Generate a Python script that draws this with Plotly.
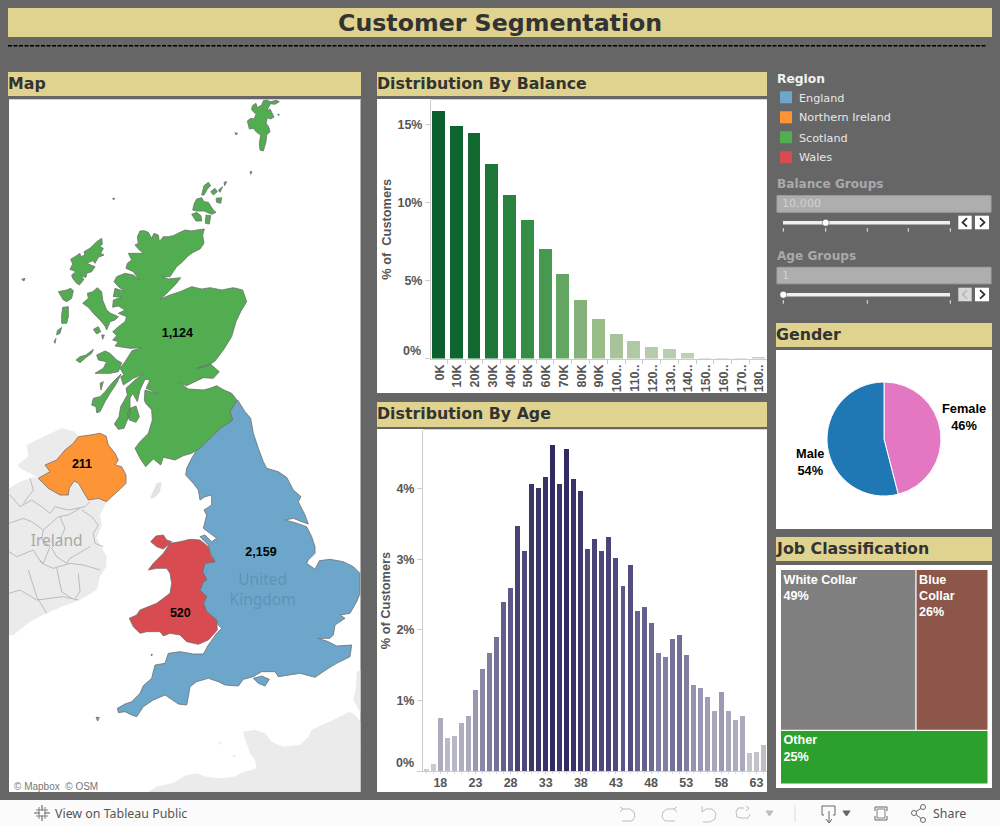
import plotly.graph_objects as go

W, H = 1000, 827

# ---------- data ----------
balance_labels = ["0K","10K","20K","30K","40K","50K","60K","70K","80K","90K","100..","110..","120..","130..","140..","150..","160..","170..","180.."]
balance_pct = [15.85,14.89,14.44,12.46,10.47,8.87,7.0,5.4,3.74,2.52,1.56,1.11,0.73,0.6,0.34,0.02,0.01,0.01,0.08]
age_values = list(range(16, 65))
age_pct = [0.03,0.10,0.75,0.47,0.50,0.68,0.78,1.15,1.45,1.67,1.90,2.39,2.59,3.47,3.12,4.07,4.01,4.17,4.62,4.07,4.56,4.14,3.97,
           3.15,3.29,3.12,3.32,3.02,2.62,2.92,2.27,2.32,2.10,1.67,1.62,1.87,1.93,1.64,1.22,1.18,1.05,0.85,1.12,0.85,0.72,0.78,0.26,0.27,0.37]
age_ticks = [18,23,28,33,38,43,48,53,58,63]
gender_labels = ["Female","Male"]
gender_pct = [46,54]
job_labels = ["White Collar","Blue<br>Collar","Other"]
job_pct = [49,26,25]
region_names = ["England","Northern Ireland","Scotland","Wales"]
region_customers = [2159,211,1124,520]
region_colors = ["#6da6cb","#fd9536","#52ad51","#d84b50"]

# Map outlines in map-grid units, read on three sheets:
# south sheet (used as is), north sheet and west sheet (shifted into place in code).
NORTH_SHIFT = (0, -915)
WEST_SHIFT = (150, -540)
england = [(713,0),(735,35),(752,55),(760,100),(775,145),(790,185),(800,205),(835,215),(860,232),(880,270),(903,290),(895,305),(915,345),(925,372),(905,365),(880,355),(855,360),(885,368),(920,380),(935,410),(945,440),(945,460),(925,480),(920,490),(945,508),(958,482),(990,478),(1030,485),(1060,500),(1080,520),(1080,580),(1070,605),(1050,640),(1020,645),(1035,655),(1005,675),(1000,705),(990,715),(955,715),(985,725),(1010,738),(1055,735),(1050,770),(1010,790),(985,805),(945,832),(900,820),(835,830),(825,815),(785,815),(760,830),(730,838),(715,858),(675,855),(655,845),(625,835),(590,845),(570,860),(565,890),(560,915),(535,912),(510,895),(495,885),(460,900),(430,920),(410,950),(395,945),(375,935),(355,938),(352,925),(375,912),(395,905),(420,880),(430,857),(455,835),(465,795),(495,790),(505,760),(540,755),(580,762),(610,762),(625,735),(650,700),(665,685),(650,670),(650,660),(620,635),(610,610),(620,590),(600,570),(610,545),(620,540),(608,515),(615,490),(645,485),(632,460),(625,435),(600,410),(615,405),(635,425),(650,415),(610,385),(620,345),(612,330),(635,315),(635,285),(615,290),(600,300),(595,270),(580,250),(557,225),(560,205),(575,175),(590,150),(630,115),(660,85),(698,60),(690,35)]
wight = [(760,835),(785,828),(808,838),(795,858),(775,850)]
scilly = [(288,952),(298,952),(293,963)]
lundy = [(453,763),(457,763),(455,768)]
wales = [(510,430),(540,425),(570,418),(600,420),(625,440),(632,465),(645,485),(615,490),(608,515),(620,540),(610,545),(600,570),(620,590),(610,610),(620,635),(650,660),(652,690),(625,720),(595,733),(560,725),(540,705),(510,700),(490,708),(480,695),(440,695),(420,700),(400,680),(388,655),(410,645),(420,630),(470,610),(510,580),(515,550),(510,520),(500,505),(470,505),(445,510),(460,490),(490,460)]
anglesey = [(452,425),(468,408),(490,405),(500,420),(515,425),(490,447),(470,440)]
n_ireland = [(300,100),(318,108),(325,135),(345,160),(355,180),(345,195),(365,200),(378,225),(378,250),(360,268),(335,290),(320,305),(295,295),(265,300),(250,275),(235,250),(222,243),(208,265),(205,285),(180,285),(145,265),(115,235),(150,215),(135,195),(170,180),(195,150),(220,130),(235,110),(270,105)]
# north sheet: Cape Wrath, north and east coasts, the border, Solway and Ayrshire
scot_east = [(420,408),(432,407),(445,412),(455,430),(462,415),(475,420),(478,440),(490,425),(505,425),(520,422),(540,412),(555,405),(575,408),(590,405),(613,402),(608,420),(612,445),(600,462),(580,472),(565,482),(548,500),(530,515),(520,530),(510,545),(488,546),(505,552),(542,548),(530,565),(510,585),(495,600),(480,612),(510,600),(540,590),(575,575),(605,582),(630,578),(665,585),(700,578),(728,585),(740,620),(722,650),(708,680),(695,725),(670,765),(645,798),(625,812),(590,820),(630,806),(658,830),(640,850),(610,848),(585,860),(560,872),(540,865),(565,882),(610,885),(630,880),(650,872),(672,885),(695,895),(711,915),(690,950),(698,975),(660,1000),(630,1030),(600,1060),(575,1075),(550,1082),(525,1095),(490,1087),(482,1110),(460,1092),(437,1115),(420,1090),(405,1060),(420,1040),(445,1015),(457,975),(455,945),(437,925)]
# west sheet: the sea lochs from the Clyde back up to Cape Wrath
scot_west = [(283,540),(285,510),(325,522),(300,510),(288,505),(300,480),(285,478),(270,510),(262,545),(248,520),(240,535),(240,580),(222,625),(205,628),(193,612),(207,590),(212,560),(232,525),(228,505),(255,480),(280,462),(250,475),(220,495),(212,470),(222,465),(210,445),(225,425),(246,392),(275,383),(240,385),(195,378),(205,365),(188,360),(200,347),(188,335),(205,320),(225,305),(230,290),(205,280),(225,270),(205,258),(188,262),(190,240),(215,232),(190,230),(195,205),(225,215),(205,200),(192,185),(200,170),(225,160),(250,165),(268,180),(250,155),(228,145),(232,130),(245,120),(235,100),(265,100),(280,100),(268,90),(255,75),(265,70),(262,50)]
hebrides_west = [
    [(155,55),(157,72),(150,80),(160,85),(152,100),(162,105),(145,112),(135,130),(128,122),(110,130),(135,140),(125,155),(110,160),(108,172),(92,168),(102,178),(88,195),(78,188),(68,175),(65,165),(78,155),(60,148),(68,132),(62,118),(75,110),(90,100),(92,110),(105,105),(102,95),(120,85),(140,65)],
    [(25,215),(50,210),(62,205),(70,212),(65,235),(50,245),(40,240)],
    [(38,262),(55,260),(55,290),(50,310),(35,310),(35,285)],
    [(35,322),(30,340),(20,345),(22,332)],
    [(12,365),(18,355),(15,370)],
    [(98,250),(115,235),(112,220),(128,215),(142,203),(155,215),(158,240),(170,270),(182,280),(205,290),(195,300),(180,305),(170,330),(165,318),(150,300),(130,280),(115,262)],
    [(130,328),(145,320),(152,335),(140,342)],
    [(155,345),(163,345),(158,358)],
    [(78,420),(90,410),(108,405),(130,388),(125,400),(105,415),(90,428)],
    [(140,405),(165,393),(180,400),(200,420),(215,428),(205,455),(180,460),(135,460),(160,445),(170,425),(145,420)],
    [(150,490),(160,485),(153,510)],
    [(213,462),(200,490),(180,520),(165,545),(150,575),(140,578),(138,560),(125,555),(130,535),(150,530),(165,515),(185,490)],
    [(240,565),(258,558),(268,590),(258,607),(238,600),(232,580)],
]
isles_north = [
    [(583,325),(590,312),(605,308),(612,320),(625,322),(640,345),(648,352),(635,358),(612,348),(590,348),(578,345)],
    [(575,358),(590,352),(603,362),(605,378),(588,378)],
    [(618,360),(632,362),(628,387),(616,385)],
    [(612,272),(625,262),(632,272),(622,282),(612,300),(605,300)],
    [(632,290),(645,280),(652,290),(640,300)],
    [(648,310),(665,308),(662,325),(650,322)],
    [(672,262),(680,260),(674,272)],
    [(655,285),(668,275),(660,292)],
    [(757,32),(768,25),(772,38),(785,30),(790,17),(800,15),(812,20),(828,16),(838,20),(825,28),(812,26),(806,36),(800,48),(810,42),(822,66),(812,72),(802,68),(798,85),(806,95),(810,110),(800,120),(798,140),(790,168),(780,165),(778,145),(782,120),(770,112),(760,100),(748,102),(742,78),(752,70),(762,72),(768,58),(755,45)],
    [(705,113),(713,115),(708,120)],
    [(750,230),(756,230),(752,238)],
    [(65,553),(75,550),(72,558)],
    [(338,310),(344,310),(341,315)],
    [(833,58),(838,58),(836,62)],
]
ireland = [(27,265),(60,245),(100,232),(115,235),(145,265),(180,285),(205,285),(222,243),(250,275),(265,300),(295,295),(320,305),(300,345),(305,375),(290,415),(320,470),(318,500),(300,530),(290,570),(240,600),(190,618),(140,640),(90,665),(40,705),(27,705)]
donegal = [(52,195),(85,170),(80,135),(130,110),(185,85),(225,95),(235,110),(220,130),(195,150),(170,180),(135,195),(150,215),(115,235),(90,220),(60,205)]
isle_of_man = [(450,295),(470,250),(485,245),(480,275),(462,295)]
france = [(445,1176),(470,1160),(520,1148),(560,1125),(590,1120),(620,1130),(660,1135),(700,1130),(735,1115),(770,1105),(765,1080),(750,1060),(740,1030),(728,995),(765,990),(795,1000),(815,1025),(850,1040),(900,1035),(925,1010),(935,990),(965,975),(1000,960),(1030,945),(1048,935),(1065,945),(1082,965),(1082,1176)]
belgium = [(1082,810),(1070,815),(1068,860),(1060,900),(1082,940)]
channel_isles = [(655,1028),(665,1025),(662,1035)], [(695,1066),(708,1064),(703,1072)]
county_lines = [
    [(30,285),(60,320),(95,300),(125,320),(150,340),(165,320),(205,330),(255,320),(270,305)],
    [(27,370),(70,355),(95,365),(130,390),(175,350),(205,345),(240,325)],
    [(130,390),(125,420),(150,440),(130,490),(120,480)],
    [(245,330),(275,350),(295,375),(280,400),(285,430),(310,440)],
    [(27,455),(50,470),(100,450),(125,490),(160,505),(210,490),(250,495),(300,510)],
    [(180,350),(195,385),(180,420),(155,445),(170,470),(200,490),(210,475),(270,440)],
    [(85,510),(110,590),(140,640)],
    [(27,580),(60,570),(110,600),(190,590),(235,600)],
    [(170,505),(185,575),(215,595)],
    [(235,520),(240,575),(225,595)],
    [(90,235),(100,270),(70,310)],
]
label_x = [783,246,532,541]
label_y = [460,194,-199,643]


def shift(poly, by):
    return [(x + by[0], y + by[1]) for x, y in poly]


def unpack(polys, close=True):
    xs, ys = [], []
    for p in polys:
        pts = p + p[:1] if close else p
        xs += [q[0] for q in pts] + [None]
        ys += [q[1] for q in pts] + [None]
    return xs, ys


# ---------- pixel helpers ----------
def fx(x): return x / W
def fy(y): return 1 - y / H


shapes = []
annotations = []


def rect(x0, y0, x1, y1, color, line=None, lw=1):
    shapes.append(dict(type="rect", xref="paper", yref="paper", layer="below",
                       x0=fx(x0), x1=fx(x1), y0=fy(y1), y1=fy(y0), fillcolor=color,
                       line=dict(color=line or color, width=lw if line else 0)))


def seg(points, color, lw=1, dash=None, fill=None, close=False):
    d = "M" + " L".join(f"{fx(x):.5f},{fy(y):.5f}" for x, y in points) + (" Z" if close else "")
    s = dict(type="path", xref="paper", yref="paper", layer="below", path=d,
             line=dict(color=color, width=lw))
    if dash: s["line"]["dash"] = dash
    if fill: s["fillcolor"] = fill
    shapes.append(s)


def text(x, y, s, size=12, color="#333", bold=False, family="DejaVu Sans", anchor="left", angle=0):
    annotations.append(dict(xref="paper", yref="paper", x=fx(x), y=fy(y), text=s, showarrow=False,
                            xanchor=anchor, yanchor="middle", textangle=angle, borderpad=0,
                            font=dict(family=family, size=size, color=color, weight=700 if bold else 400)))


BG = "#666666"
BAND = "#dfd38f"
INK = "#333333"
rect(8, 8, 992, 37, BAND)
text(499.5, 23, "Customer Segmentation", 23.7, INK, True, anchor="center")
seg([(8, 45.7), (987, 45.7)], "#000000", 1.5, dash="4px,1.5px")

for x0, y0, x1, y1, t, ty in [(8, 72, 361, 96, "Map", 83.5), (377, 72, 767, 96, "Distribution By Balance", 83.5),
                              (377, 402, 767, 427, "Distribution By Age", 413.5), (776, 323, 992, 347, "Gender", 334.5),
                              (776, 537, 992, 561, "Job Classification", 548.5)]:
    rect(x0, y0, x1, y1, BAND)
    text(x0 - 1, ty, t, 15.8, INK, True)

# white panels
rect(9, 99, 360.5, 792, "#ffffff")
rect(377, 99, 767, 393, "#ffffff")
rect(377, 429, 767, 792, "#ffffff")
rect(776, 350, 992, 529, "#ffffff")
rect(776, 565, 992, 788, "#ffffff")
seg([(9, 99.5), (360.5, 99.5)], "#d4d4d4", 1)
seg([(431, 99.5), (767, 99.5)], "#d4d4d4", 1)
seg([(423, 429.5), (767, 429.5)], "#d4d4d4", 1)

# toolbar
rect(0, 800, 1000, 827, "#fbfbfb")
text(54, 813.5, "View on Tableau Public", 12.4, "#555555", family="Noto Sans")
text(932, 813.5, "Share", 12.4, "#555555", family="Noto Sans")
for dx, dy in [(0, -8), (0, 8), (-8, 0), (8, 0)]:
    seg([(42 + dx * 0.3, 813 + dy * 0.3), (42 + dx, 813 + dy)], "#555555", 1)
seg([(36, 810), (48, 810)], "#666666", 0.8)
seg([(36, 816), (48, 816)], "#666666", 0.8)
seg([(39, 807), (39, 819)], "#666666", 0.8)
seg([(45, 807), (45, 819)], "#666666", 0.8)
G = "#bdbdbd"
D = "#666666"
seg([(623, 809), (630, 809), (634, 812), (635, 817), (632, 821), (622, 821)], G, 1)
seg([(620, 807), (623, 809), (620, 812)], G, 1)
seg([(674, 809), (667, 809), (663, 812), (662, 817), (665, 821), (675, 821)], G, 1)
seg([(677, 807), (674, 809), (677, 812)], G, 1)
seg([(702, 806), (702, 812), (706, 809), (712, 809), (716, 813), (715, 819), (710, 822), (703, 822)], G, 1)
seg([(744, 808), (738, 808), (736, 812), (737, 817), (741, 818), (748, 818), (750, 814)], G, 1)
seg([(746, 806), (749, 808), (746, 811)], G, 1)
seg([(766, 811), (773, 811), (769.5, 816)], G, 1, fill=G, close=True)
seg([(795, 805), (795, 822)], "#dddddd", 1)
seg([(824, 815), (822, 815), (822, 806), (835, 806), (835, 815), (833, 815)], D, 1)
seg([(829, 811), (829, 822)], D, 1)
seg([(826, 819), (829, 823), (832, 819)], D, 1)
seg([(843, 811), (850, 811), (846.5, 816)], D, 1, fill=D, close=True)
seg([(875, 811), (875, 807), (887, 807), (887, 811)], D, 1)
seg([(875, 816), (875, 820), (887, 820), (887, 816)], D, 1)
seg([(877, 809), (885, 809), (885, 818), (877, 818)], D, 0.8, close=True)
seg([(923, 807), (914, 813), (923, 820)], D, 1)
for cx, cy in [(923, 807), (914, 813), (923, 820)]:
    shapes.append(dict(type="circle", xref="paper", yref="paper", layer="below",
                       x0=fx(cx - 2.5), x1=fx(cx + 2.5), y0=fy(cy + 2.5), y1=fy(cy - 2.5),
                       fillcolor="#fbfbfb", line=dict(color=D, width=1)))

# legend block
text(775.5, 78.5, "Region", 12.3, "#f2f2f2", True)
for i, (n, c) in enumerate(zip(region_names, region_colors)):
    rect(780, 91.3 + 20 * i, 792, 103.3 + 20 * i, c)
    text(797.5, 98 + 20 * i, n, 11.2, "#e8e8e8")


def slider(label, ly, box0, value, track_y, thumb_x, ticks, left_on):
    text(775.5, ly, label, 12.1, "#aaaaaa", True)
    rect(777, box0, 991, box0 + 16.5, "#aeaeae", line="#a2a2a2")
    text(781, box0 + 8, value, 11.2, "#d0d0d0")
    rect(783, track_y - 1.8, 950, track_y + 1.8, "#eeeeee")
    for t in ticks:
        seg([(t, track_y + 5.5), (t, track_y + 9)], "#eeeeee", 1)
    shapes.append(dict(type="circle", xref="paper", yref="paper", layer="below",
                       x0=fx(thumb_x - 3.5), x1=fx(thumb_x + 3.5), y0=fy(track_y + 3.5), y1=fy(track_y - 3.5),
                       fillcolor="#ffffff", line=dict(color="#444444", width=0.5)))
    by = track_y - 7
    rect(958.3, by, 971.7, by + 13.6, "#ffffff" if left_on else "#d9d9d9")
    rect(975, by, 989, by + 13.6, "#ffffff")
    seg([(967, by + 2.5), (962.5, by + 6.8), (967, by + 11)], "#333333" if left_on else "#bbbbbb", 1.8)
    seg([(980, by + 2.5), (984.5, by + 6.8), (980, by + 11)], "#333333", 1.8)


slider("Balance Groups", 183.7, 195.7, "10,000", 222.7, 825.7, [783.3, 825.7, 867.3, 908.3, 950.3], True)
slider("Age Groups", 255.7, 267.3, "1", 294.7, 783.3, [783.3, 867.3, 950.3], False)

# ---------- figure ----------
fig = go.Figure()
TICK = dict(family="Liberation Sans", size=12.5, color="#555555", weight=700)
AXIS = "#cccccc"

# Balance
fig.add_trace(go.Bar(x=balance_labels, y=balance_pct, width=0.73, xaxis="x", yaxis="y", showlegend=False,
                     marker=dict(color=balance_pct, cmin=0, cmax=max(balance_pct), line_width=0, showscale=False,
                                 colorscale=[[0, "#c4d3ba"], [0.1, "#a8c39c"], [0.16, "#98bd89"], [0.236, "#85b278"],
                                             [0.34, "#65a562"], [0.44, "#47994f"], [0.66, "#28833f"], [1, "#0a5f2c"]])))
# Age
fig.add_trace(go.Bar(x=age_values, y=age_pct, width=0.71, xaxis="x2", yaxis="y2", showlegend=False,
                     marker=dict(color=age_pct, cmin=0, cmax=max(age_pct), line_width=0, showscale=False,
                                 colorscale=[[0, "#cfcfd2"], [0.11, "#b8b7c6"], [0.22, "#a09fb5"], [0.43, "#6f6c95"],
                                             [0.65, "#4f4b7d"], [1, "#2f2b60"]])))

# Map: background land, borders, regions
bg_x, bg_y = unpack([ireland, donegal, france, belgium] + list(channel_isles))
fig.add_trace(go.Scatter(x=bg_x, y=bg_y, mode="lines", fill="toself", fillcolor="#ebebeb", line=dict(width=0, simplify=False),
                         xaxis="x3", yaxis="y3", showlegend=False, hoverinfo="skip"))
im_x, im_y = unpack([isle_of_man])
fig.add_trace(go.Scatter(x=im_x, y=im_y, mode="lines", fill="toself", fillcolor="#e3e3e3", line=dict(width=0, simplify=False),
                         xaxis="x3", yaxis="y3", showlegend=False, hoverinfo="skip"))
cl_x, cl_y = unpack(county_lines, close=False)
fig.add_trace(go.Scatter(x=cl_x, y=cl_y, mode="lines", line=dict(color="#a6a6a6", width=0.7, simplify=False),
                         xaxis="x3", yaxis="y3", showlegend=False, hoverinfo="skip"))
scot_mainland = shift(scot_east, NORTH_SHIFT) + shift(scot_west, WEST_SHIFT)
region_polys = {
    "England": [england, wight, scilly, lundy],
    "Northern Ireland": [n_ireland],
    "Scotland": [scot_mainland] + [shift(p, WEST_SHIFT) for p in hebrides_west] + [shift(p, NORTH_SHIFT) for p in isles_north],
    "Wales": [wales, anglesey],
}
for name, color in zip(region_names, region_colors):
    xs, ys = unpack(region_polys[name])
    fig.add_trace(go.Scatter(x=xs, y=ys, mode="lines", fill="toself", fillcolor=color, name=name,
                             line=dict(color="#6e6e6e", width=0.8, simplify=False), xaxis="x3", yaxis="y3", showlegend=False))
# place names on the map
fig.add_trace(go.Scatter(x=[170], y=[425], text=["Ireland"], mode="text",
                         textfont=dict(family="Noto Sans", size=15.5, color="#a8a8a8"),
                         xaxis="x3", yaxis="y3", showlegend=False, hoverinfo="skip"))
fig.add_trace(go.Scatter(x=[788], y=[574], text=["United<br>Kingdom"], mode="text",
                         textfont=dict(family="Noto Sans", size=15.5, color="#5e93b8"),
                         xaxis="x3", yaxis="y3", showlegend=False, hoverinfo="skip"))
fig.add_trace(go.Scatter(x=label_x, y=label_y, text=[f"{v:,}" for v in region_customers], mode="text",
                         textfont=dict(family="Liberation Sans", size=12.5, color="#000000", weight=700),
                         xaxis="x3", yaxis="y3", showlegend=False, hoverinfo="skip"))
text(13, 786, "© Mapbox  © OSM", 10, "#777777", family="Liberation Sans")

# Gender
fig.add_trace(go.Pie(labels=gender_labels, values=gender_pct, sort=False, direction="clockwise", rotation=0,
                     domain=dict(x=[fx(827), fx(941)], y=[fy(496), fy(382)]), hole=0,
                     marker=dict(colors=["#e377c2", "#1f77b4"], line=dict(color="#ffffff", width=1)),
                     textinfo="none", showlegend=False))
for (lx, ly), name, pct in zip([(964, 417), (810, 461.5)], gender_labels, gender_pct):
    text(lx, ly, f"{name}<br>{pct}%", 12.8, "#000000", True, "Liberation Sans", anchor="center")

# Job classification
fig.add_trace(go.Treemap(labels=job_labels, parents=["", "", ""], values=job_pct, sort=False,
                         domain=dict(x=[fx(780.5), fx(988)], y=[fy(784), fy(569.5)]),
                         tiling=dict(packing="squarify", squarifyratio=1.5, pad=0),
                         marker=dict(colors=["#7f7f7f", "#8c564b", "#2ca02c"], line=dict(color="#ffffff", width=1),
                                     pad=dict(t=0, l=0, r=0, b=0)),
                         pathbar=dict(visible=False), root_color="#ffffff",
                         texttemplate="%{label}<br>%{value}%", textposition="top left",
                         textfont=dict(family="Liberation Sans", size=12.6, color="#ffffff", weight=700)))

text(422.3, 350.7, "0%", 12.5, "#555555", True, "Liberation Sans", anchor="right")
text(415, 763.3, "0%", 12.5, "#555555", True, "Liberation Sans", anchor="right")

TITLE = dict(family="Liberation Sans", size=12.8, color="#555555", weight=700)
fig.update_layout(
    width=W, height=H, autosize=False, margin=dict(l=0, r=0, t=0, b=0, autoexpand=False),
    paper_bgcolor=BG, plot_bgcolor="rgba(0,0,0,0)", bargap=0, showlegend=False,
    shapes=shapes, annotations=annotations,
    xaxis=dict(domain=[fx(431), fx(767)], anchor="y", type="category", range=[-0.42, 18.49], tickangle=-90,
               tickfont=TICK, ticks="outside", ticklen=4, tickcolor=AXIS, tickson="boundaries", ticklabelshift=1,
               showline=True, linecolor=AXIS, showgrid=False, zeroline=False, automargin=False,
               categoryorder="array", categoryarray=balance_labels),
    yaxis=dict(domain=[fy(358.5), fy(100)], anchor="x", range=[0, 16.57], tickmode="array", tickvals=[0, 5, 10, 15],
               ticktext=["", "5%", "10%", "15%"], tickfont=TICK, ticks="outside", ticklen=5, tickcolor=AXIS,
               showline=True, linecolor=AXIS, showgrid=False, zeroline=False, automargin=False,
               title=dict(text="% of\u00a0 Customers", font=TITLE, standoff=2)),
    xaxis2=dict(domain=[fx(423), fx(767)], anchor="y2", range=[15.53, 64.5], tickmode="array", tickvals=age_ticks,
                tickfont=TICK, ticks="outside", ticklen=2, tickcolor=AXIS, showline=True, linecolor=AXIS,
                showgrid=False, zeroline=False, automargin=False, ticklabelstandoff=-2,
                minor=dict(dtick=1, ticks="outside", ticklen=2, tickcolor="#dddddd")),
    yaxis2=dict(domain=[fy(771), fy(430)], anchor="x2", range=[0, 4.83], tickmode="array", tickvals=[0, 1, 2, 3, 4],
                ticktext=["", "1%", "2%", "3%", "4%"], tickfont=TICK, ticks="outside", ticklen=5, tickcolor=AXIS,
                showline=True, linecolor=AXIS, showgrid=False, zeroline=False, automargin=False,
                title=dict(text="% of Customers", font=TITLE, standoff=2)),
    xaxis3=dict(domain=[fx(9), fx(360.5)], anchor="y3", range=[27, 1081.5], visible=False, fixedrange=True),
    yaxis3=dict(domain=[fy(792), fy(99)], anchor="x3", range=[1176, -903], visible=False, fixedrange=True),
)

fig.write_html("out.html", config=dict(displayModeBar=False),
               post_script="document.body.style.margin='0';document.body.style.overflow='hidden';")
